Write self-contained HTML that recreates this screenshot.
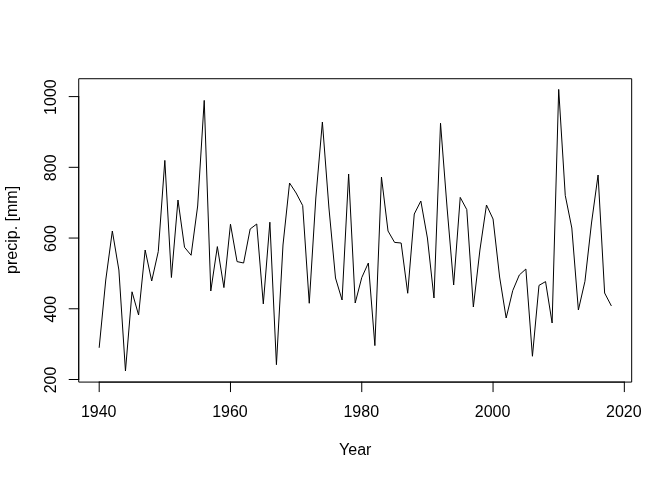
<!DOCTYPE html>
<html><head><meta charset="utf-8"><style>
html,body{margin:0;padding:0;background:#fff;}
svg{display:block;will-change:transform;}
text{font-family:"Liberation Sans",Arial,sans-serif;font-size:16px;fill:#000;}
</style></head><body>
<svg width="672" height="480" viewBox="0 0 672 480">
<rect width="672" height="480" fill="#fff"/>
<rect x="78.72" y="78.72" width="552.96" height="303.36" fill="none" stroke="#000" stroke-width="1" stroke-linejoin="round"/>
<polyline points="99.20,347.40 105.76,280.00 112.33,231.00 118.89,270.00 125.46,371.00 132.02,291.80 138.58,315.00 145.15,250.00 151.71,281.00 158.28,251.50 164.84,160.40 171.41,277.50 177.97,200.00 184.53,247.25 191.10,255.25 197.66,206.00 204.23,100.40 210.79,291.00 217.35,246.60 223.92,287.60 230.48,224.20 237.05,261.60 243.61,263.00 250.17,229.00 256.74,224.00 263.30,303.90 269.87,222.20 276.43,364.70 282.99,245.00 289.56,183.00 296.12,193.00 302.69,205.60 309.25,303.25 315.82,198.00 322.38,122.00 328.94,208.00 335.51,278.00 342.07,300.00 348.64,174.00 355.20,303.00 361.76,277.60 368.33,263.00 374.89,345.60 381.46,177.00 388.02,231.00 394.58,242.40 401.15,243.00 407.71,293.25 414.28,214.00 420.84,201.00 427.41,238.00 433.97,298.00 440.53,123.20 447.10,208.00 453.66,285.00 460.23,197.40 466.79,209.60 473.35,307.00 479.92,250.00 486.48,205.00 493.05,219.00 499.61,277.00 506.17,318.00 512.74,290.60 519.30,275.00 525.87,269.00 532.43,356.25 538.99,285.40 545.56,281.60 552.12,323.00 558.69,89.40 565.25,195.40 571.82,228.00 578.38,310.00 584.94,281.30 591.51,223.00 598.07,175.00 604.64,293.00 611.20,305.60" fill="none" stroke="#000" stroke-width="1" stroke-linejoin="round" stroke-linecap="round"/>
<line x1="99.20" y1="382.08" x2="624.33" y2="382.08" stroke="#000" stroke-width="1" stroke-linecap="round"/>
<line x1="99.20" y1="382.08" x2="99.20" y2="391.68" stroke="#000" stroke-width="1" stroke-linecap="round"/>
<text x="98.70" y="417.1" text-anchor="middle">1940</text>
<line x1="230.48" y1="382.08" x2="230.48" y2="391.68" stroke="#000" stroke-width="1" stroke-linecap="round"/>
<text x="229.98" y="417.1" text-anchor="middle">1960</text>
<line x1="361.76" y1="382.08" x2="361.76" y2="391.68" stroke="#000" stroke-width="1" stroke-linecap="round"/>
<text x="361.26" y="417.1" text-anchor="middle">1980</text>
<line x1="493.05" y1="382.08" x2="493.05" y2="391.68" stroke="#000" stroke-width="1" stroke-linecap="round"/>
<text x="492.55" y="417.1" text-anchor="middle">2000</text>
<line x1="624.33" y1="382.08" x2="624.33" y2="391.68" stroke="#000" stroke-width="1" stroke-linecap="round"/>
<text x="623.83" y="417.1" text-anchor="middle">2020</text>
<line x1="78.72" y1="379.50" x2="78.72" y2="96.60" stroke="#000" stroke-width="1" stroke-linecap="round"/>
<line x1="78.72" y1="379.50" x2="69.12" y2="379.50" stroke="#000" stroke-width="1" stroke-linecap="round"/>
<text transform="translate(55.8,380.00) rotate(-90)" text-anchor="middle">200</text>
<line x1="78.72" y1="308.77" x2="69.12" y2="308.77" stroke="#000" stroke-width="1" stroke-linecap="round"/>
<text transform="translate(55.8,309.27) rotate(-90)" text-anchor="middle">400</text>
<line x1="78.72" y1="238.05" x2="69.12" y2="238.05" stroke="#000" stroke-width="1" stroke-linecap="round"/>
<text transform="translate(55.8,238.55) rotate(-90)" text-anchor="middle">600</text>
<line x1="78.72" y1="167.32" x2="69.12" y2="167.32" stroke="#000" stroke-width="1" stroke-linecap="round"/>
<text transform="translate(55.8,167.82) rotate(-90)" text-anchor="middle">800</text>
<line x1="78.72" y1="96.60" x2="69.12" y2="96.60" stroke="#000" stroke-width="1" stroke-linecap="round"/>
<text transform="translate(55.8,97.10) rotate(-90)" text-anchor="middle">1000</text>
<text x="355.2" y="455.0" text-anchor="middle">Year</text>
<text transform="translate(17.3,229.9) rotate(-90)" text-anchor="middle">precip. [mm]</text>
</svg>
</body></html>
